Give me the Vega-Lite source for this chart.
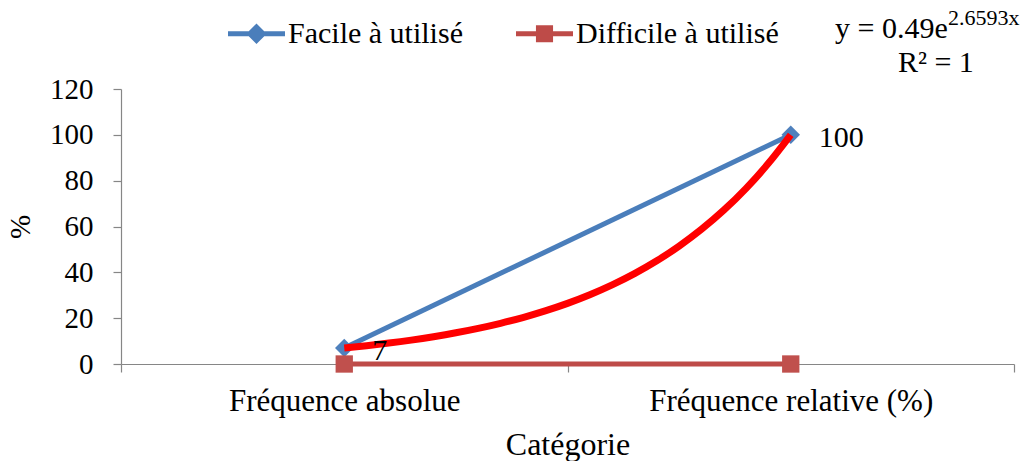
{
  "$schema": "https://vega.github.io/schema/vega-lite/v6.json",
  "width": 893,
  "height": 275,
  "autosize": {"type": "none"},
  "padding": {"left": 121, "top": 89, "right": 13, "bottom": 97},
  "background": "white",
  "config": {
    "font": "Liberation Serif",
    "view": {"stroke": null},
    "axis": {
      "labelFont": "Liberation Serif",
      "titleFont": "Liberation Serif",
      "labelColor": "#000000",
      "titleColor": "#000000",
      "titleFontWeight": "normal",
      "grid": false,
      "domainColor": "#868686",
      "tickColor": "#868686",
      "domainWidth": 1.2,
      "tickWidth": 1.2
    }
  },
  "datasets": {
    "series": [
      {"rang": 1, "categorie": "Fréquence absolue", "serie": "Facile à utilisé", "valeur": 7},
      {"rang": 2, "categorie": "Fréquence relative (%)", "serie": "Facile à utilisé", "valeur": 100},
      {"rang": 1, "categorie": "Fréquence absolue", "serie": "Difficile à utilisé", "valeur": 0},
      {"rang": 2, "categorie": "Fréquence relative (%)", "serie": "Difficile à utilisé", "valeur": 0}
    ],
    "tendance": [
      {"rang": 1.0, "valeur": 7.0},
      {"rang": 1.05, "valeur": 8.0},
      {"rang": 1.1, "valeur": 9.13},
      {"rang": 1.15, "valeur": 10.43},
      {"rang": 1.2, "valeur": 11.92},
      {"rang": 1.25, "valeur": 13.61},
      {"rang": 1.3, "valeur": 15.55},
      {"rang": 1.35, "valeur": 17.76},
      {"rang": 1.4, "valeur": 20.28},
      {"rang": 1.45, "valeur": 23.17},
      {"rang": 1.5, "valeur": 26.46},
      {"rang": 1.55, "valeur": 30.23},
      {"rang": 1.6, "valeur": 34.53},
      {"rang": 1.65, "valeur": 39.44},
      {"rang": 1.7, "valeur": 45.04},
      {"rang": 1.75, "valeur": 51.45},
      {"rang": 1.8, "valeur": 58.77},
      {"rang": 1.85, "valeur": 67.12},
      {"rang": 1.9, "valeur": 76.67},
      {"rang": 1.95, "valeur": 87.57},
      {"rang": 2.0, "valeur": 100.0}
    ],
    "equation": [
      {"texte": "y = 0.49e", "exposant": "2.6593x", "r2": "R² = 1"}
    ]
  },
  "layer": [
    {
      "data": {"name": "series"},
      "mark": {"type": "line", "strokeWidth": 5},
      "encoding": {
        "x": {
          "field": "rang",
          "type": "quantitative",
          "scale": {"domain": [0.5, 2.5], "nice": false, "zero": false},
          "axis": {
            "values": [0.5, 1, 1.5, 2, 2.5],
            "labelExpr": "datum.value == 1 ? 'Fréquence absolue' : datum.value == 2 ? 'Fréquence relative (%)' : ''",
            "tickOpacity": {"condition": {"test": "datum.value == 1 || datum.value == 2", "value": 0}, "value": 1},
            "tickSize": 8,
            "labelFontSize": 31,
            "labelPadding": 14,
            "labelLimit": 500,
            "labelFlush": false,
            "labelOverlap": false,
            "title": "Catégorie",
            "titleFontSize": 32,
            "titlePadding": 13
          }
        },
        "y": {
          "field": "valeur",
          "type": "quantitative",
          "scale": {"domain": [0, 120], "nice": false},
          "axis": {
            "values": [0, 20, 40, 60, 80, 100, 120],
            "tickSize": 8,
            "labelFontSize": 29,
            "labelPadding": 20,
            "title": "%",
            "titleFontSize": 29,
            "titlePadding": 14
          }
        },
        "color": {
          "field": "serie",
          "type": "nominal",
          "scale": {"domain": ["Facile à utilisé", "Difficile à utilisé"], "range": ["#4A7EBB", "#BE4B48"]},
          "legend": {
            "title": null,
            "orient": "none",
            "direction": "horizontal",
            "legendX": 107,
            "legendY": -84,
            "symbolSize": 3249,
            "symbolType": "M-1,-0.09H1V0.09H-1Z",
            "symbolStrokeWidth": 0,
            "labelFontSize": 30,
            "labelFont": "Liberation Serif",
            "labelColor": "#000000",
            "labelOffset": 3,
            "labelLimit": 400,
            "columnPadding": 53,
            "encode": {
              "symbols": {
                "update": {
                  "shape": {"signal": "datum.value == 'Facile à utilisé' ? 'M-1,-0.09H1V0.09H-1Z M0,-0.36L0.36,0L0,0.36L-0.36,0Z' : 'M-1,-0.09H1V0.09H-1Z M-0.3,-0.3H0.3V0.3H-0.3Z'"},
                  "fill": {"signal": "datum.value == 'Facile à utilisé' ? '#4A7EBB' : '#BE4B48'"},
                  "stroke": {"value": "transparent"},
                  "opacity": {"value": 1},
                  "fillOpacity": {"value": 1}
                }
              }
            }
          }
        }
      }
    },
    {
      "data": {"name": "series"},
      "transform": [{"filter": "datum.serie == 'Facile à utilisé'"}],
      "mark": {"type": "point", "shape": "diamond", "filled": true, "opacity": 1, "size": 340, "color": "#4F81BD"},
      "encoding": {
        "x": {"field": "rang", "type": "quantitative"},
        "y": {"field": "valeur", "type": "quantitative"}
      }
    },
    {
      "data": {"name": "series"},
      "transform": [{"filter": "datum.serie == 'Difficile à utilisé'"}],
      "mark": {"type": "point", "shape": "square", "filled": true, "opacity": 1, "size": 300, "color": "#C0504D"},
      "encoding": {
        "x": {"field": "rang", "type": "quantitative"},
        "y": {"field": "valeur", "type": "quantitative"}
      }
    },
    {
      "data": {"name": "tendance"},
      "mark": {"type": "line", "color": "#FF0000", "strokeWidth": 7, "interpolate": "monotone"},
      "encoding": {
        "x": {"field": "rang", "type": "quantitative"},
        "y": {"field": "valeur", "type": "quantitative"}
      }
    },
    {
      "data": {"name": "series"},
      "transform": [{"filter": "datum.serie == 'Facile à utilisé'"}],
      "mark": {"type": "text", "align": "left", "baseline": "middle", "dx": 28, "dy": 3, "fontSize": 30, "font": "Liberation Serif", "color": "#000000"},
      "encoding": {
        "x": {"field": "rang", "type": "quantitative"},
        "y": {"field": "valeur", "type": "quantitative"},
        "text": {"field": "valeur", "type": "quantitative"}
      }
    },
    {
      "data": {"name": "equation"},
      "mark": {"type": "text", "align": "left", "baseline": "alphabetic", "fontSize": 30, "font": "Liberation Serif", "color": "#000000", "clip": false},
      "encoding": {
        "x": {"datum": 2.0991},
        "y": {"datum": 142.3},
        "text": {"field": "texte", "type": "nominal"}
      }
    },
    {
      "data": {"name": "equation"},
      "mark": {"type": "text", "align": "left", "baseline": "alphabetic", "fontSize": 22, "font": "Liberation Serif", "color": "#000000", "clip": false},
      "encoding": {
        "x": {"datum": 2.3522},
        "y": {"datum": 147.9},
        "text": {"field": "exposant", "type": "nominal"}
      }
    },
    {
      "data": {"name": "equation"},
      "mark": {"type": "text", "align": "center", "baseline": "alphabetic", "fontSize": 30, "font": "Liberation Serif", "color": "#000000", "clip": false},
      "encoding": {
        "x": {"datum": 2.325},
        "y": {"datum": 127.4},
        "text": {"field": "r2", "type": "nominal"}
      }
    }
  ]
}
